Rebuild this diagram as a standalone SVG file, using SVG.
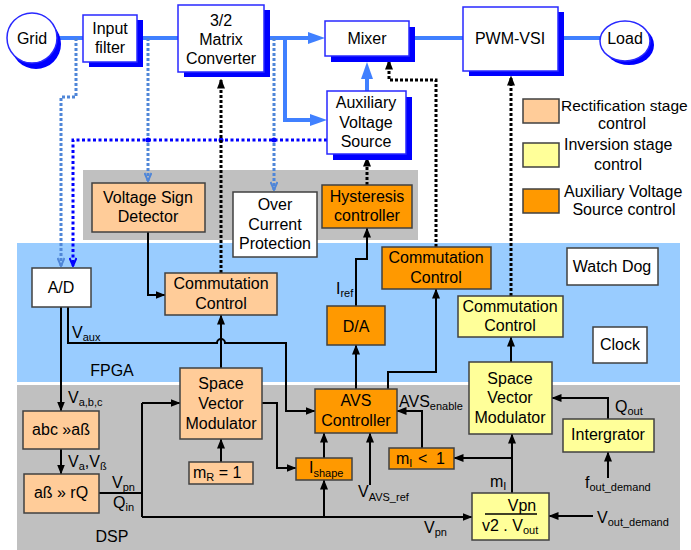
<svg xmlns="http://www.w3.org/2000/svg" width="691" height="550" viewBox="0 0 691 550">
<defs>
<style>
text{font-family:"Liberation Sans",Arial,sans-serif;font-size:16px;fill:#000}
.c{text-anchor:middle}
.sub{font-size:11px}
.top{fill:#fff;stroke:#2828ff;stroke-width:1.5}
.sh{fill:#0000ff}
.pe{fill:#ffcc99;stroke:#404040;stroke-width:1.5}
.ye{fill:#ffff99;stroke:#404040;stroke-width:1.5}
.or{fill:#ff9900;stroke:#404040;stroke-width:1.5}
.wh{fill:#fff;stroke:#404040;stroke-width:1.5}
.bl{fill:none;stroke:#4080ff;stroke-width:4}
.k{fill:none;stroke:#000;stroke-width:2}
.kd{fill:none;stroke:#000;stroke-width:3;stroke-dasharray:3 2}
.lb{fill:none;stroke:#4f86d8;stroke-width:3;stroke-dasharray:3 2}
.db{fill:none;stroke:#0000ff;stroke-width:3;stroke-dasharray:3 2.5}
</style>
<marker id="ak" viewBox="0 0 10 8" refX="9.5" refY="4" markerWidth="10" markerHeight="8" orient="auto" markerUnits="userSpaceOnUse"><path d="M0,0 L10,4 L0,8 z" fill="#000"/></marker>
<marker id="abl" viewBox="0 0 17 12" refX="0" refY="6" markerWidth="17" markerHeight="12" orient="auto" markerUnits="userSpaceOnUse"><path d="M0,0 L17,6 L0,12 z" fill="#4080ff"/></marker>
<marker id="alb" viewBox="0 0 10 8" refX="9" refY="4" markerWidth="10" markerHeight="8" orient="auto" markerUnits="userSpaceOnUse"><path d="M1,0.5 L9,4 L1,7.5" fill="none" stroke="#4f86d8" stroke-width="2"/></marker>
<marker id="adb" viewBox="0 0 10 8" refX="9" refY="4" markerWidth="10" markerHeight="8" orient="auto" markerUnits="userSpaceOnUse"><path d="M1,0.5 L9,4 L1,7.5" fill="none" stroke="#0000ff" stroke-width="2"/></marker>
</defs>

<g id="backgrounds">
<rect x="83" y="170" width="335" height="70" fill="#c0c0c0"/>
<rect x="17" y="243" width="663" height="139" fill="#99ccff"/>
<rect x="17" y="385" width="663" height="165" fill="#c0c0c0"/>
<text x="112" y="376" class="c">FPGA</text>
<text x="112" y="542" class="c">DSP</text>
</g>

<g id="connectors">
<path class="bl" d="M57,38 H83 M137,38 H178 M409,38 H463 M558,38 H600"/>
<path class="bl" d="M264,38 H308" marker-end="url(#abl)"/>
<path class="bl" d="M285,38 V120 H310" marker-end="url(#abl)"/>
<path class="bl" d="M367,91 V79" marker-end="url(#abl)"/>

<path class="lb" d="M76,38 V97 H61 V266" marker-end="url(#alb)"/>
<path class="lb" d="M148,38 V181" marker-end="url(#alb)"/>
<path class="lb" d="M274,38 V190" marker-end="url(#alb)"/>
<path class="db" d="M327,140 H73 V266" marker-end="url(#adb)"/>
<circle cx="148" cy="140" r="2.5" fill="#0000ff"/>
<circle cx="221" cy="140" r="2.5" fill="#0000ff"/>
<circle cx="274" cy="140" r="2.5" fill="#0000ff"/>

<path class="kd" d="M221,273 V79" marker-end="url(#ak)"/>
<path class="kd" d="M367,185 V157" marker-end="url(#ak)"/>
<path class="kd" d="M436,247 V80 H389 V60" marker-end="url(#ak)"/>
<path class="kd" d="M511,296 V76" marker-end="url(#ak)"/>

<path class="k" d="M148,232 V295 H165" marker-end="url(#ak)"/>
<path class="k" d="M61,307 V411" marker-end="url(#ak)"/>
<path class="k" d="M68,307 V343 H217 a4,4 0 0 1 8,0 H286 V411 H315" marker-end="url(#ak)"/>
<path class="k" d="M61,449 V474" marker-end="url(#ak)"/>
<path class="k" d="M99,493 H142 M142,403 V517"/>
<path class="k" d="M142,403 H180" marker-end="url(#ak)"/>
<path class="k" d="M142,517 H472" marker-end="url(#ak)"/>
<path class="k" d="M221,368 V315" marker-end="url(#ak)"/>
<path class="k" d="M221,462 V439" marker-end="url(#ak)"/>
<path class="k" d="M262,403 H277 V468 H296" marker-end="url(#ak)"/>
<path class="k" d="M324,458 V433" marker-end="url(#ak)"/>
<path class="k" d="M324,517 V480" marker-end="url(#ak)"/>
<path class="k" d="M370,485 V433" stroke-width="3" marker-end="url(#ak)"/>
<path class="k" d="M356,389 V345" marker-end="url(#ak)"/>
<path class="k" d="M388,389 V372 H436 V289" marker-end="url(#ak)"/>
<path class="k" d="M356,306 V259 H367 V228" marker-end="url(#ak)"/>
<path class="k" d="M422,448 V411 H397" marker-end="url(#ak)"/>
<path class="k" d="M512,493 V434" marker-end="url(#ak)"/>
<path class="k" d="M512,458 H454" marker-end="url(#ak)"/>
<path class="k" d="M608,419 V398 H552" marker-end="url(#ak)"/>
<path class="k" d="M608,478 V452" marker-end="url(#ak)"/>
<path class="k" d="M593,516 H549" marker-end="url(#ak)"/>
<path class="k" d="M511,362 V337" marker-end="url(#ak)"/>

<text x="336" y="294">I<tspan class="sub" dy="3">ref</tspan></text>
<text x="72" y="338">V<tspan class="sub" dy="3">aux</tspan></text>
<text x="68" y="403">V<tspan class="sub" dy="3">a,b,c</tspan></text>
<text x="68" y="467">V<tspan class="sub" dy="3">a</tspan><tspan dy="-3">,V</tspan><tspan class="sub" dy="3">ß</tspan></text>
<text x="112" y="488">V<tspan class="sub" dy="3">pn</tspan></text>
<text x="113" y="508">Q<tspan class="sub" dy="3">in</tspan></text>
<text x="399" y="407">AVS<tspan class="sub" dy="3">enable</tspan></text>
<text x="358" y="497">V<tspan class="sub" dy="4">AVS_ref</tspan></text>
<text x="424" y="533">V<tspan class="sub" dy="3">pn</tspan></text>
<text x="490" y="487">m<tspan class="sub" dy="3">I</tspan></text>
<text x="615" y="412">Q<tspan class="sub" dy="3">out</tspan></text>
<text x="585" y="488">f<tspan class="sub" dy="3">out_demand</tspan></text>
<text x="597" y="523">V<tspan class="sub" dy="3">out_demand</tspan></text>
</g>

<g id="grid">
<circle cx="36" cy="44" r="25" fill="#0000ff"/>
<circle cx="32" cy="38" r="25" fill="#fff" stroke="#2828ff" stroke-width="1.5"/>
<text x="32" y="44" class="c">Grid</text>
</g>
<g id="input-filter">
<rect x="89" y="20" width="54" height="47" class="sh"/>
<rect x="83" y="15" width="54" height="47" class="top"/>
<text x="110" y="34" class="c">Input</text>
<text x="110" y="53" class="c">filter</text>
</g>
<g id="matrix-converter">
<rect x="184" y="10" width="86" height="67" class="sh"/>
<rect x="178" y="5" width="86" height="67" class="top"/>
<text x="221" y="26" class="c">3/2</text>
<text x="221" y="45" class="c">Matrix</text>
<text x="221" y="64" class="c">Converter</text>
</g>
<g id="mixer">
<rect x="331" y="27" width="84" height="35" class="sh"/>
<rect x="325" y="21" width="84" height="35" class="top"/>
<text x="367" y="44" class="c">Mixer</text>
</g>
<g id="aux-voltage-source">
<rect x="333" y="97" width="79" height="63" class="sh"/>
<rect x="327" y="91" width="79" height="63" class="top"/>
<text x="366" y="108" class="c">Auxiliary</text>
<text x="366" y="128" class="c">Voltage</text>
<text x="366" y="147" class="c">Source</text>
</g>
<g id="pwm-vsi">
<rect x="469" y="12" width="95" height="64" class="sh"/>
<rect x="463" y="7" width="95" height="64" class="top"/>
<text x="510" y="44" class="c">PWM-VSI</text>
</g>
<g id="load">
<ellipse cx="629" cy="45" rx="25" ry="20" fill="#0000ff"/>
<ellipse cx="625" cy="41" rx="25" ry="20" fill="#fff" stroke="#2828ff" stroke-width="1.5"/>
<text x="625" y="44" class="c">Load</text>
</g>

<g id="legend">
<rect x="523" y="99" width="36" height="24" class="pe"/>
<text x="561" y="111" style="font-size:15.5px">Rectification stage</text>
<text x="622" y="129" class="c">control</text>
<rect x="523" y="143" width="36" height="24" class="ye"/>
<text x="564" y="150">Inversion stage</text>
<text x="618" y="170" class="c">control</text>
<rect x="523" y="189" width="36" height="24" class="or"/>
<text x="564" y="197">Auxiliary Voltage</text>
<text x="624" y="215" class="c">Source control</text>
</g>

<g id="voltage-sign-detector">
<rect x="92" y="183" width="113" height="49" class="pe"/>
<text x="148" y="203" class="c">Voltage Sign</text>
<text x="148" y="222" class="c">Detector</text>
</g>
<g id="over-current-protection">
<rect x="233" y="192" width="84" height="65" class="wh"/>
<text x="275" y="210" class="c">Over</text>
<text x="275" y="230" class="c">Current</text>
<text x="275" y="249" class="c">Protection</text>
</g>
<g id="hysteresis-controller">
<rect x="322" y="185" width="90" height="43" class="or"/>
<text x="367" y="202" class="c">Hysteresis</text>
<text x="367" y="221" class="c">controller</text>
</g>
<g id="commutation-control-avs">
<rect x="382" y="247" width="109" height="42" class="or"/>
<text x="436" y="263" class="c">Commutation</text>
<text x="436" y="283" class="c">Control</text>
</g>
<g id="watch-dog">
<rect x="567" y="248" width="91" height="37" class="wh"/>
<text x="612" y="272" class="c">Watch Dog</text>
</g>
<g id="clock">
<rect x="593" y="327" width="54" height="36" class="wh"/>
<text x="620" y="350" class="c">Clock</text>
</g>
<g id="a-d">
<rect x="32" y="268" width="59" height="39" class="wh"/>
<text x="61" y="293" class="c">A/D</text>
</g>
<g id="commutation-control-rect">
<rect x="165" y="273" width="112" height="42" class="pe"/>
<text x="221" y="289" class="c">Commutation</text>
<text x="221" y="309" class="c">Control</text>
</g>
<g id="d-a">
<rect x="327" y="306" width="58" height="39" class="or"/>
<text x="356" y="332" class="c">D/A</text>
</g>
<g id="commutation-control-inv">
<rect x="458" y="296" width="105" height="41" class="ye"/>
<text x="510" y="312" class="c">Commutation</text>
<text x="510" y="331" class="c">Control</text>
</g>
<g id="svm-rect">
<rect x="180" y="368" width="82" height="71" class="pe"/>
<text x="221" y="389" class="c">Space</text>
<text x="221" y="409" class="c">Vector</text>
<text x="221" y="429" class="c">Modulator</text>
</g>
<g id="svm-inv">
<rect x="469" y="362" width="83" height="72" class="ye"/>
<text x="510" y="384" class="c">Space</text>
<text x="510" y="403" class="c">Vector</text>
<text x="510" y="423" class="c">Modulator</text>
</g>
<g id="avs-controller">
<rect x="315" y="389" width="82" height="44" class="or"/>
<text x="356" y="406" class="c">AVS</text>
<text x="356" y="426" class="c">Controller</text>
</g>
<g id="abc-ab">
<rect x="23" y="411" width="76" height="38" class="pe"/>
<text x="61" y="435" class="c">abc »aß</text>
</g>
<g id="ab-rq">
<rect x="24" y="474" width="75" height="39" class="pe"/>
<text x="61" y="498" class="c">aß  » rQ</text>
</g>
<g id="mr">
<rect x="189" y="462" width="64" height="22" class="pe"/>
<text x="193" y="478">m<tspan class="sub" dy="3">R</tspan><tspan dy="-3"> = 1</tspan></text>
</g>
<g id="ishape">
<rect x="296" y="458" width="56" height="22" class="or"/>
<text x="309" y="473">I<tspan class="sub" dy="4">shape</tspan></text>
</g>
<g id="mi-lt-1">
<rect x="389" y="448" width="65" height="21" class="or"/>
<text x="396" y="464">m<tspan class="sub" dy="3">I</tspan></text>
<text x="418" y="464">&lt;</text>
<text x="436" y="464">1</text>
</g>
<g id="integrator">
<rect x="563" y="419" width="91" height="33" class="ye"/>
<text x="608" y="440" class="c">Intergrator</text>
</g>
<g id="fraction">
<rect x="472" y="493" width="77" height="47" class="ye"/>
<text x="522" y="511" class="c">Vpn</text>
<line x1="485" y1="514" x2="537" y2="514" stroke="#000" stroke-width="1.5"/>
<text x="482" y="531">v2 . V<tspan class="sub" dy="3">out</tspan></text>
</g>
</svg>
